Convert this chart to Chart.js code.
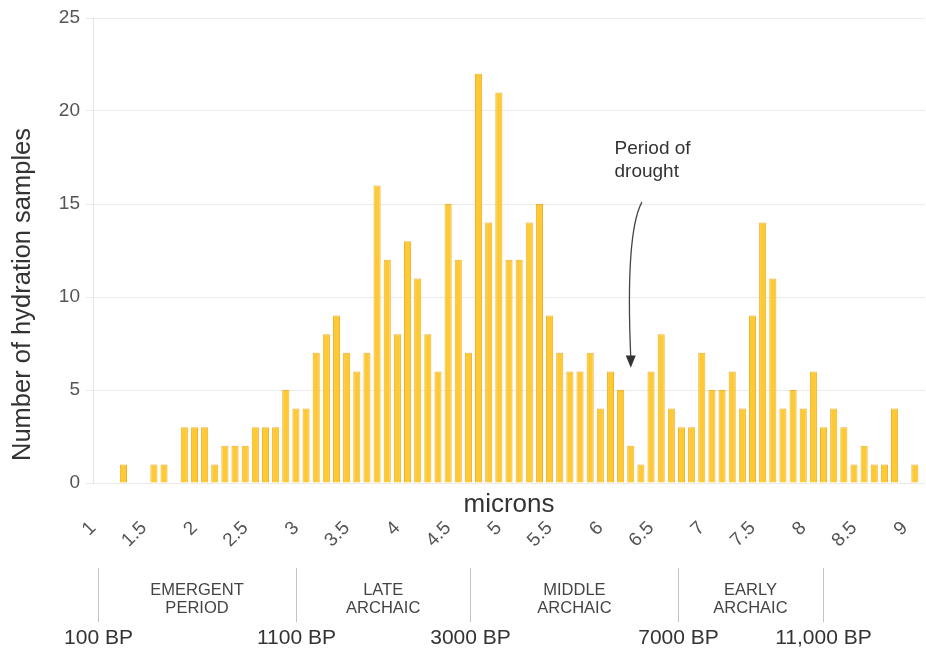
<!DOCTYPE html>
<html>
<head>
<meta charset="utf-8">
<title>Hydration samples by micron</title>
<script src="https://cdn.jsdelivr.net/npm/chart.js@4.4.1/dist/chart.umd.min.js"></script>
<style>
  body { margin: 0; background: #fff; }
  canvas { display: block; }
</style>
</head>
<body>
<canvas id="chart" width="926" height="651"></canvas>
<script>
// hydration rim width bins (microns) and sample counts per bin
const microns = [
  1.3, 1.4, 1.5, 1.6, 1.7, 1.8, 1.9, 2.0, 2.1, 2.2,
  2.3, 2.4, 2.5, 2.6, 2.7, 2.8, 2.9, 3.0, 3.1, 3.2,
  3.3, 3.4, 3.5, 3.6, 3.7, 3.8, 3.9, 4.0, 4.1, 4.2,
  4.3, 4.4, 4.5, 4.6, 4.7, 4.8, 4.9, 5.0, 5.1, 5.2,
  5.3, 5.4, 5.5, 5.6, 5.7, 5.8, 5.9, 6.0, 6.1, 6.2,
  6.3, 6.4, 6.5, 6.6, 6.7, 6.8, 6.9, 7.0, 7.1, 7.2,
  7.3, 7.4, 7.5, 7.6, 7.7, 7.8, 7.9, 8.0, 8.1, 8.2,
  8.3, 8.4, 8.5, 8.6, 8.7, 8.8, 8.9, 9.0, 9.1,
];
const counts = [
  1, 0, 0, 1, 1, 0, 3, 3, 3, 1,
  2, 2, 2, 3, 3, 3, 5, 4, 4, 7,
  8, 9, 7, 6, 7, 16, 12, 8, 13, 11,
  8, 6, 15, 12, 7, 22, 14, 21, 12, 12,
  14, 15, 9, 7, 6, 6, 7, 4, 6, 5,
  2, 1, 6, 8, 4, 3, 3, 7, 5, 5,
  6, 4, 9, 14, 11, 4, 5, 4, 6, 3,
  4, 3, 1, 2, 1, 1, 4, 0, 1,
];

// cultural periods along the micron axis
const periodEdges = [1.05, 3.0, 4.72, 6.77, 8.19];
const periodDates = ['100 BP', '1100 BP', '3000 BP', '7000 BP', '11,000 BP'];
const periodNames = [
  ['EMERGENT', 'PERIOD'],
  ['LATE', 'ARCHAIC'],
  ['MIDDLE', 'ARCHAIC'],
  ['EARLY', 'ARCHAIC'],
];
const droughtNote = ['Period of', 'drought'];

const FONT = '"Liberation Sans", Arial, sans-serif';

// extra text and marks that Chart.js has no built-in place for
const extras = {
  id: 'extras',
  afterDraw(chart) {
    const { ctx, chartArea } = chart;
    const { x, y } = chart.scales;
    const bottom = chartArea.bottom;
    ctx.save();
    ctx.fillStyle = '#333';
    ctx.textAlign = 'center';
    ctx.textBaseline = 'middle';

    // x title sits between the bars and the tick labels
    ctx.font = `26px ${FONT}`;
    ctx.fillText('microns', (chartArea.left + chartArea.right) / 2, bottom + 22);

    // y title, a bit below the middle like the original
    ctx.save();
    ctx.translate(23, (chartArea.top + bottom) / 2 + 44);
    ctx.rotate(-Math.PI / 2);
    ctx.font = `25.5px ${FONT}`;
    ctx.fillText('Number of hydration samples', 0, 0);
    ctx.restore();

    // period dividers + dates
    ctx.strokeStyle = '#c4c4c4';
    ctx.lineWidth = 1;
    periodEdges.forEach((edge, i) => {
      const px = Math.round(x.getPixelForValue(edge)) + 0.5;
      ctx.beginPath();
      ctx.moveTo(px, bottom + 85);
      ctx.lineTo(px, bottom + 139);
      ctx.stroke();
      ctx.font = `21px ${FONT}`;
      ctx.fillStyle = '#333';
      ctx.fillText(periodDates[i], px, bottom + 155);
    });
    ctx.font = `16.5px ${FONT}`;
    ctx.fillStyle = '#444';
    periodNames.forEach((lines, i) => {
      const cx = (x.getPixelForValue(periodEdges[i]) + x.getPixelForValue(periodEdges[i + 1])) / 2;
      lines.forEach((t, j) => ctx.fillText(t, cx, bottom + 107 + j * 18));
    });

    // drought note and curved arrow
    ctx.fillStyle = '#333';
    ctx.font = `19px ${FONT}`;
    ctx.textAlign = 'left';
    ctx.textBaseline = 'top';
    droughtNote.forEach((t, j) => {
      ctx.fillText(t, x.getPixelForValue(6.14), y.getPixelForValue(18.5) + j * 23);
    });
    const sx = x.getPixelForValue(6.41);
    const sy = y.getPixelForValue(15.1);
    const ex = x.getPixelForValue(6.3);
    const ey = y.getPixelForValue(6.75);
    ctx.strokeStyle = '#444';
    ctx.lineWidth = 1.3;
    ctx.beginPath();
    ctx.moveTo(sx, sy);
    ctx.bezierCurveTo(x.getPixelForValue(6.28), y.getPixelForValue(13.8),
      x.getPixelForValue(6.27), y.getPixelForValue(10.5), ex, ey);
    ctx.stroke();
    ctx.fillStyle = '#333';
    ctx.beginPath();
    ctx.moveTo(ex - 5, ey - 2);
    ctx.lineTo(ex + 5, ey - 2);
    ctx.lineTo(ex, y.getPixelForValue(6.2));
    ctx.closePath();
    ctx.fill();
    ctx.restore();
  },
};

new Chart(document.getElementById('chart'), {
  type: 'bar',
  data: {
    datasets: [{
      label: 'Hydration samples',
      data: microns.map((m, i) => ({ x: m, y: counts[i] })),
      backgroundColor: 'rgb(253, 201, 52)',
      borderColor: 'rgb(242, 176, 44)',
      borderWidth: 1,
      categoryPercentage: 1,
      barPercentage: 0.7,
    }],
  },
  options: {
    responsive: false,
    animation: false,
    devicePixelRatio: 1,
    layout: { padding: { left: 0, right: 1, top: 18, bottom: 0 } },
    plugins: {
      legend: { display: false },
      tooltip: { enabled: false },
    },
    scales: {
      x: {
        type: 'linear',
        offset: false,
        min: 1,
        max: 9.2,
        grid: { display: false, drawTicks: false },
        border: { display: false },
        ticks: {
          stepSize: 0.5,
          includeBounds: false,
          minRotation: 45,
          maxRotation: 45,
          padding: 34,
          color: '#555',
          font: { family: FONT, size: 19 },
          callback: (v) => String(v),
        },
        afterFit: (s) => {
          s.height = 168;
          // let the plot run to the right edge like the original
          s.paddingLeft = 0;
          s.paddingRight = 0;
        },
      },
      y: {
        min: 0,
        max: 25,
        grid: { color: '#ebebeb', tickLength: 7 },
        border: { color: '#e4e4e4' },
        ticks: {
          stepSize: 5,
          padding: 6,
          color: '#555',
          font: { family: FONT, size: 19 },
        },
        afterFit: (s) => { s.width = 93; },
      },
    },
  },
  plugins: [extras],
});
</script>
</body>
</html>
